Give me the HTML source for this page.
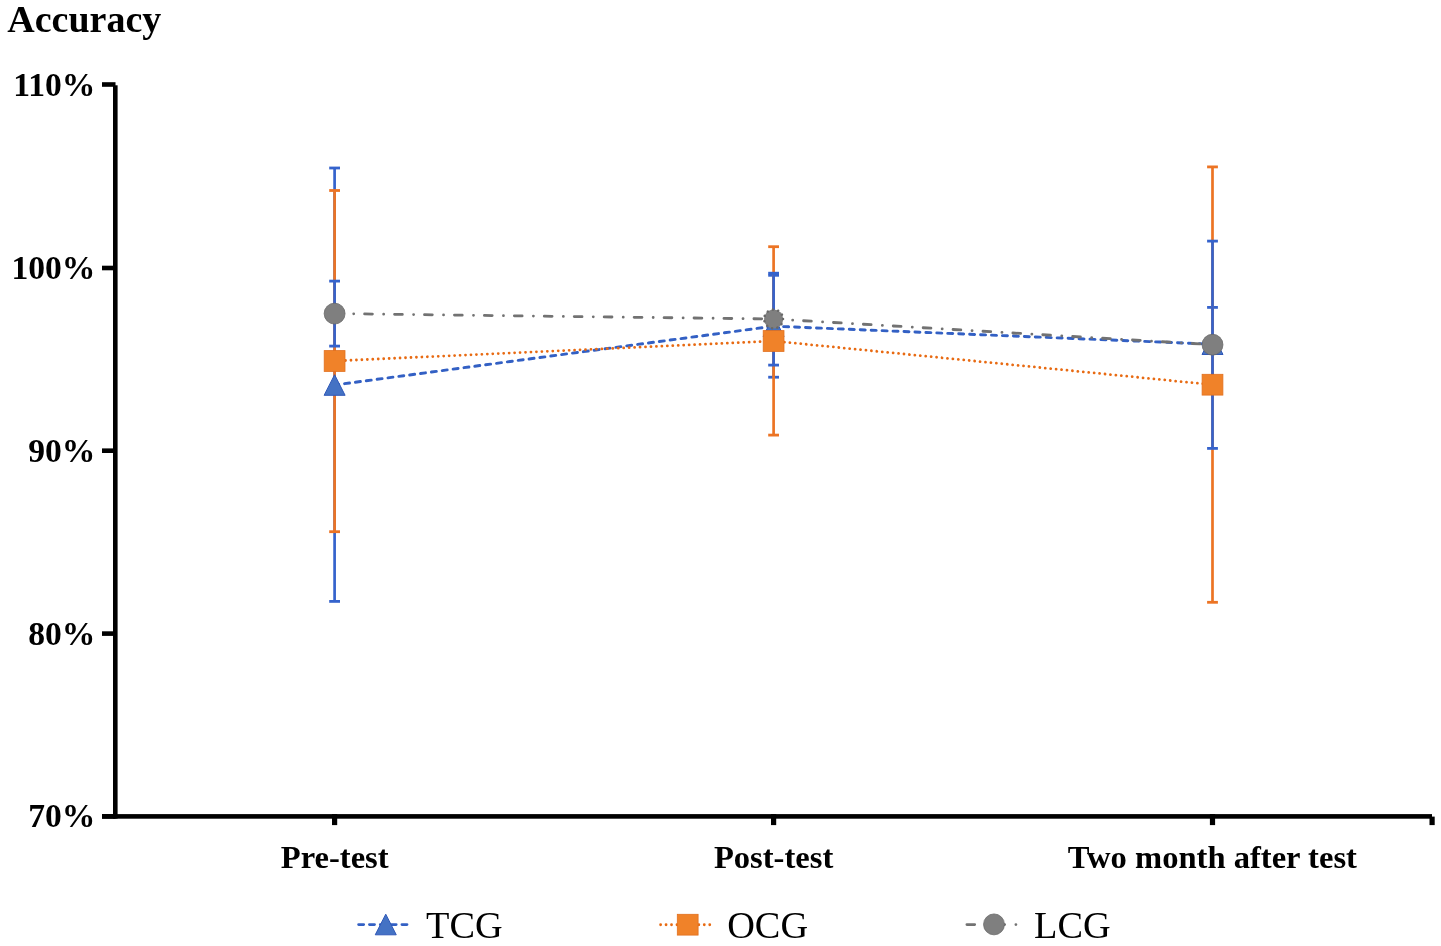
<!DOCTYPE html>
<html><head><meta charset="utf-8"><title>Accuracy chart</title>
<style>
html,body{margin:0;padding:0;background:#fff;width:1441px;height:946px;overflow:hidden;}
svg{display:block;will-change:transform;}
</style></head>
<body>
<svg width="1441" height="946" viewBox="0 0 1441 946">
<rect width="1441" height="946" fill="#fff"/>
<rect x="113.0" y="85.3" width="4.6" height="733.3" fill="#000"/>
<rect x="102.0" y="82.20" width="13.5" height="4.6" fill="#000"/>
<rect x="102.0" y="265.70" width="13.5" height="4.6" fill="#000"/>
<rect x="102.0" y="448.40" width="13.5" height="4.6" fill="#000"/>
<rect x="102.0" y="631.30" width="13.5" height="4.6" fill="#000"/>
<rect x="102.0" y="814.10" width="13.5" height="4.6" fill="#000"/>
<rect x="102.0" y="814.1" width="1330.0" height="4.6" fill="#000"/>
<rect x="332.00" y="814.1" width="5.2" height="11.0" fill="#000"/>
<rect x="771.00" y="814.1" width="5.2" height="11.0" fill="#000"/>
<rect x="1209.90" y="814.1" width="5.2" height="11.0" fill="#000"/>
<rect x="1429.5" y="816.6" width="5.2" height="8.5" fill="#000"/>
<g stroke="#3563CC" stroke-width="2.7" fill="none"><line x1="334.6" y1="168.0" x2="334.6" y2="601.4"/><line x1="329.20" y1="168.0" x2="340.00" y2="168.0" stroke-width="2.8"/><line x1="329.20" y1="601.4" x2="340.00" y2="601.4" stroke-width="2.8"/></g>
<g stroke="#EC7424" stroke-width="2.7" fill="none"><line x1="334.6" y1="190.5" x2="334.6" y2="531.7"/><line x1="329.20" y1="190.5" x2="340.00" y2="190.5" stroke-width="2.8"/><line x1="329.20" y1="531.7" x2="340.00" y2="531.7" stroke-width="2.8"/></g>
<g stroke="#3563CC" stroke-width="2.7" fill="none"><line x1="334.6" y1="281.1" x2="334.6" y2="346.1"/><line x1="329.20" y1="281.1" x2="340.00" y2="281.1" stroke-width="2.8"/><line x1="329.20" y1="346.1" x2="340.00" y2="346.1" stroke-width="2.8"/></g>
<g stroke="#3563CC" stroke-width="2.7" fill="none"><line x1="773.6" y1="275.3" x2="773.6" y2="377.2"/><line x1="768.20" y1="275.3" x2="779.00" y2="275.3" stroke-width="2.8"/><line x1="768.20" y1="377.2" x2="779.00" y2="377.2" stroke-width="2.8"/></g>
<g stroke="#EC7424" stroke-width="2.7" fill="none"><line x1="773.6" y1="246.7" x2="773.6" y2="435.1"/><line x1="768.20" y1="246.7" x2="779.00" y2="246.7" stroke-width="2.8"/><line x1="768.20" y1="435.1" x2="779.00" y2="435.1" stroke-width="2.8"/></g>
<g stroke="#3563CC" stroke-width="2.7" fill="none"><line x1="773.6" y1="273.2" x2="773.6" y2="365.1"/><line x1="768.20" y1="273.2" x2="779.00" y2="273.2" stroke-width="2.8"/><line x1="768.20" y1="365.1" x2="779.00" y2="365.1" stroke-width="2.8"/></g>
<g stroke="#3563CC" stroke-width="2.7" fill="none"><line x1="1212.5" y1="307.4" x2="1212.5" y2="380.4"/><line x1="1207.10" y1="307.4" x2="1217.90" y2="307.4" stroke-width="2.8"/><line x1="1207.10" y1="380.4" x2="1217.90" y2="380.4" stroke-width="2.8"/></g>
<g stroke="#EC7424" stroke-width="2.7" fill="none"><line x1="1212.5" y1="166.9" x2="1212.5" y2="602.3"/><line x1="1207.10" y1="166.9" x2="1217.90" y2="166.9" stroke-width="2.8"/><line x1="1207.10" y1="602.3" x2="1217.90" y2="602.3" stroke-width="2.8"/></g>
<g stroke="#3563CC" stroke-width="2.7" fill="none"><line x1="1212.5" y1="241.1" x2="1212.5" y2="448.4"/><line x1="1207.10" y1="241.1" x2="1217.90" y2="241.1" stroke-width="2.8"/><line x1="1207.10" y1="448.4" x2="1217.90" y2="448.4" stroke-width="2.8"/></g>
<line x1="334.6" y1="385.0" x2="773.6" y2="326.2" stroke="#3360C4" stroke-width="2.9" stroke-dasharray="5.0 5.95" stroke-linecap="round" stroke-dashoffset="0.9"/>
<line x1="773.6" y1="326.2" x2="1212.5" y2="344.2" stroke="#3360C4" stroke-width="2.9" stroke-dasharray="5.0 5.95" stroke-linecap="round" stroke-dashoffset="0.9"/>
<line x1="334.6" y1="361.0" x2="773.6" y2="341.0" stroke="#E86A12" stroke-width="2.8" stroke-dasharray="0.01 5.45" stroke-linecap="round"/>
<line x1="773.6" y1="341.0" x2="1212.5" y2="384.7" stroke="#E86A12" stroke-width="2.8" stroke-dasharray="0.01 5.45" stroke-linecap="round"/>
<line x1="334.6" y1="313.6" x2="773.6" y2="319.0" stroke="#727272" stroke-width="2.8" stroke-dasharray="7.8 11.25 0.01 10.89" stroke-linecap="round" stroke-dashoffset="-0.05"/>
<line x1="773.6" y1="319.0" x2="1212.5" y2="344.7" stroke="#727272" stroke-width="2.8" stroke-dasharray="7.8 11.25 0.01 10.89" stroke-linecap="round" stroke-dashoffset="-0.05"/>
<path d="M334.60,374.70 L345.10,395.30 L324.10,395.30 Z" fill="#4472C4" stroke="#2F58B8" stroke-width="1" stroke-linejoin="miter"/>
<path d="M773.60,315.90 L784.10,336.50 L763.10,336.50 Z" fill="#4472C4" stroke="#2F58B8" stroke-width="1" stroke-linejoin="miter"/>
<path d="M1212.50,333.90 L1223.00,354.50 L1202.00,354.50 Z" fill="#4472C4" stroke="#2F58B8" stroke-width="1" stroke-linejoin="miter"/>
<rect x="324.20" y="350.60" width="20.8" height="20.8" fill="#F08229" stroke="#E2701E" stroke-width="0.8"/>
<rect x="763.20" y="330.60" width="20.8" height="20.8" fill="#F08229" stroke="#E2701E" stroke-width="0.8"/>
<rect x="1202.10" y="374.30" width="20.8" height="20.8" fill="#F08229" stroke="#E2701E" stroke-width="0.8"/>
<circle cx="334.60" cy="313.60" r="10.45" fill="#7F7F7F" stroke="#686868" stroke-width="0.8"/>
<circle cx="1212.50" cy="344.70" r="10.45" fill="#7F7F7F" stroke="#686868" stroke-width="0.8"/>
<circle cx="773.6" cy="319.0" r="9.6" fill="#7F7F7F"/>
<circle cx="773.6" cy="319.0" r="9.4" fill="none" stroke="#686868" stroke-width="2.6" stroke-dasharray="0.01 5.4" stroke-linecap="round"/>
<line x1="358.65" y1="924.6" x2="407.45" y2="924.6" stroke="#3360C4" stroke-width="2.9" stroke-dasharray="5.0 5.83" stroke-linecap="round"/>
<path d="M385.75,914.20 L396.25,934.80 L375.25,934.80 Z" fill="#4472C4" stroke="#2F58B8" stroke-width="1" stroke-linejoin="miter"/>
<line x1="660.6" y1="924.75" x2="709.9" y2="924.75" stroke="#E86A12" stroke-width="2.8" stroke-dasharray="0.01 5.45" stroke-linecap="round"/>
<rect x="677.30" y="914.30" width="20.8" height="20.8" fill="#F08229" stroke="#E2701E" stroke-width="0.8"/>
<line x1="966.9" y1="924.6" x2="1016.0" y2="924.6" stroke="#727272" stroke-width="2.8" stroke-dasharray="7.8 11.25 0.01 10.89" stroke-linecap="round"/>
<circle cx="994.00" cy="924.40" r="10.45" fill="#7F7F7F" stroke="#686868" stroke-width="0.8"/>
<text x="7.3" y="31.6" font-family='"Liberation Serif", serif' font-size="38.0" font-weight="bold" text-anchor="start" fill="#000">Accuracy</text>
<text x="95.4" y="95.5" font-family='"Liberation Serif", serif' font-size="33.6" font-weight="bold" text-anchor="end" fill="#000">110%</text>
<text x="95.4" y="279.0" font-family='"Liberation Serif", serif' font-size="33.6" font-weight="bold" text-anchor="end" fill="#000">100%</text>
<text x="95.4" y="461.7" font-family='"Liberation Serif", serif' font-size="33.6" font-weight="bold" text-anchor="end" fill="#000">90%</text>
<text x="95.4" y="644.8" font-family='"Liberation Serif", serif' font-size="33.6" font-weight="bold" text-anchor="end" fill="#000">80%</text>
<text x="95.4" y="827.4" font-family='"Liberation Serif", serif' font-size="33.6" font-weight="bold" text-anchor="end" fill="#000">70%</text>
<text x="334.7" y="868.4" font-family='"Liberation Serif", serif' font-size="32.6" font-weight="bold" text-anchor="middle" fill="#000">Pre-test</text>
<text x="773.6" y="868.4" font-family='"Liberation Serif", serif' font-size="32.6" font-weight="bold" text-anchor="middle" fill="#000">Post-test</text>
<text x="1212.35" y="868.4" font-family='"Liberation Serif", serif' font-size="32.6" font-weight="bold" text-anchor="middle" fill="#000">Two month after test</text>
<text x="426.0" y="937.8" font-family='"Liberation Serif", serif' font-size="38.3" font-weight="normal" text-anchor="start" fill="#000">TCG</text>
<text x="727.2" y="937.8" font-family='"Liberation Serif", serif' font-size="38.3" font-weight="normal" text-anchor="start" fill="#000">OCG</text>
<text x="1034.0" y="937.8" font-family='"Liberation Serif", serif' font-size="38.3" font-weight="normal" text-anchor="start" fill="#000">LCG</text>
</svg>
</body></html>
